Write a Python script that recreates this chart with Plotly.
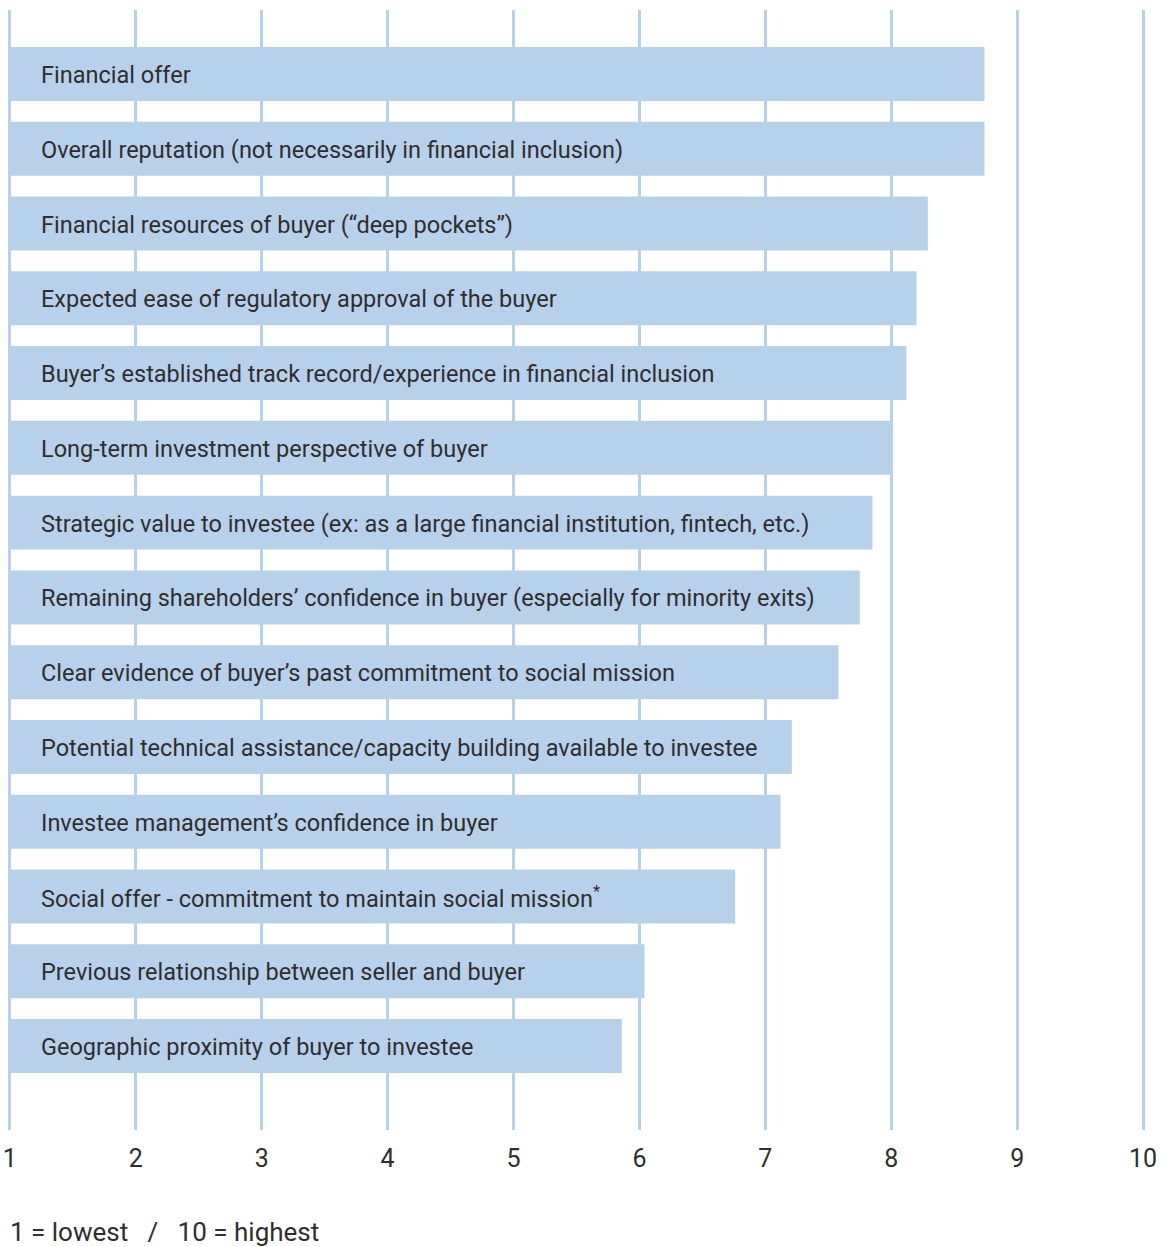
import plotly.graph_objects as go

categories = [
    "Financial offer",
    "Overall reputation (not necessarily in financial inclusion)",
    "Financial resources of buyer (“deep pockets”)",
    "Expected ease of regulatory approval of the buyer",
    "Buyer’s established track record/experience in financial inclusion",
    "Long-term investment perspective of buyer",
    "Strategic value to investee (ex: as a large financial institution, fintech, etc.)",
    "Remaining shareholders’ confidence in buyer (especially for minority exits)",
    "Clear evidence of buyer’s past commitment to social mission",
    "Potential technical assistance/capacity building available to investee",
    "Investee management’s confidence in buyer",
    "Social offer - commitment to maintain social mission<sup>*</sup>",
    "Previous relationship between seller and buyer",
    "Geographic proximity of buyer to investee",
]
scores = [8.74, 8.74, 8.29, 8.20, 8.12, 8.01, 7.85, 7.75, 7.58, 7.21, 7.12, 6.76, 6.04, 5.86]
tick_values = [1, 2, 3, 4, 5, 6, 7, 8, 9, 10]
footnote = "1 = lowest   /   10 = highest"

FONT = "Roboto"
TXT = "#2e2e2e"
BLUE = "#b8d1eb"

idx = list(range(len(categories)))

fig = go.Figure()
fig.add_trace(go.Bar(
    y=idx,
    x=[s - 1 for s in scores],
    base=1,
    orientation="h",
    marker=dict(color=BLUE, line=dict(width=0)),
    width=0.722,
    hoverinfo="skip",
))

for i, c in zip(idx, categories):
    fig.add_annotation(
        x=1, y=i, xref="x", yref="y", text=c, showarrow=False,
        xanchor="left", yanchor="middle", xshift=29, yshift=-1,
        font=dict(family=FONT, size=23.5, color=TXT),
    )

fig.add_annotation(
    x=0, y=-0.0911, xref="paper", yref="paper", text=footnote.replace(" ", "&nbsp;"),
    showarrow=False, xanchor="left", yanchor="middle",
    font=dict(family=FONT, size=26, color=TXT),
)

fig.update_layout(
    width=1164, height=1247,
    margin=dict(l=8, r=19, t=10, b=117),
    paper_bgcolor="white", plot_bgcolor="white",
    showlegend=False,
    xaxis=dict(
        range=[0.985, 10.015], tickvals=tick_values, ticktext=[str(v) for v in tick_values],
        showgrid=True, gridcolor=BLUE, gridwidth=3, zeroline=False, showline=False,
        ticks="", ticklabelstandoff=11, automargin=False,
        tickfont=dict(family=FONT, size=25, color=TXT),
    ),
    yaxis=dict(
        range=[14.123, -0.856], showticklabels=False, showgrid=False,
        zeroline=False, showline=False, ticks="", automargin=False,
    ),
)

fig.write_html("out.html")
